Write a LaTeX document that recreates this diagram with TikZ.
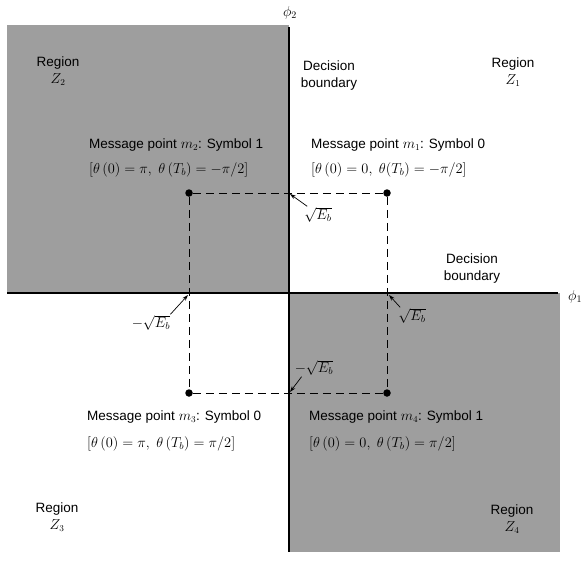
\documentclass[tikz,border=0pt]{standalone}
\usepackage{amsmath}
\usepackage{fontspec}
\setmainfont{Liberation Sans}
\usetikzlibrary{arrows.meta}

\begin{document}
\begin{tikzpicture}
    [x=1pt, y=-1pt,
    region/.style={fill=black!38, draw=none},
    bndry/.style={line width=1.4pt},
    guide/.style={line width=0.8pt, dash pattern=on 8pt off 5pt},
    msgpt/.style={inner sep=0pt, minimum size=7.5pt, circle, fill=black},
    txt/.style={font=\fontsize{13.5}{17}\selectfont, inner sep=1pt},
    eqn/.style={font=\fontsize{14.5}{17}\selectfont, inner sep=1pt},
    ptr/.style={-{Stealth[length=6pt, width=4pt]}, line width=0.7pt}]
        \useasboundingbox (0,0) rectangle (585,562);
        % Shaded regions Z2 and Z4
        \fill[region] (7,25) rectangle (289,293);
        \fill[region] (289,293) rectangle (560,552);

        % Decision boundaries (axes)
        \coordinate (top) at (289,27);
        \coordinate (bot) at (289,552);
        \coordinate (lft) at (7,293);
        \coordinate (rgt) at (558,293);
        \draw[bndry] (top) -- (bot);
        \draw[bndry] (lft) -- (rgt);
        \node[eqn] (phi2) at (290,13) {$\phi_2$};
        \node[eqn, anchor=west] (phi1) at (567,297) {$\phi_1$};

        % Message points
        \node[msgpt] (m1) at (387,193) {};
        \node[msgpt] (m2) at (189,193) {};
        \node[msgpt] (m3) at (189,393) {};
        \node[msgpt] (m4) at (387,393) {};

        \draw[guide] (m2) -- (m1);
        \draw[guide] (m1) -- (m4);
        \draw[guide] (m2) -- (m3);
        \draw[guide] (m3) -- (m4);

        % Projections on the axes
        \coordinate (p2) at (290,194);
        \coordinate (n1) at (188,295);
        \coordinate (p1) at (389,295);
        \coordinate (n2) at (290,392);
        \node[eqn] (e1) at (318,215) {$\sqrt{E_b}$};
        \node[eqn] (e2) at (151,323) {$-\sqrt{E_b}$};
        \node[eqn] (e3) at (412,316) {$\sqrt{E_b}$};
        \node[eqn] (e4) at (314,368) {$-\sqrt{E_b}$};
        \draw[ptr] ([xshift=4pt]e1.north west) -- (p2);
        \draw[ptr] ([xshift=-1pt]e2.north east) -- (n1);
        \draw[ptr] ([xshift=3pt]e3.north west) -- (p1);
        \draw[ptr] ([xshift=8pt]e4.south west) -- (n2);

        % Labels of the message points
        \node[txt, anchor=west] (msg2) at (88,145) {Message point $m_2$: Symbol 1};
        \node[eqn, anchor=west] (ang2) at (88,170) {$[\theta\,(0) = \pi,\ \theta\,(T_b) = -\pi/2]$};
        \node[txt, anchor=west] (msg1) at (310,145) {Message point $m_1$: Symbol 0};
        \node[eqn, anchor=west] (ang1) at (310,170) {$[\theta\,(0) = 0,\ \theta(T_b) = -\pi/2]$};
        \node[txt, anchor=west] (msg3) at (86,417) {Message point $m_3$: Symbol 0};
        \node[eqn, anchor=west] (ang3) at (86,444) {$[\theta\,(0) = \pi,\ \theta\,(T_b) = \pi/2]$};
        \node[txt, anchor=west] (msg4) at (308,417) {Message point $m_4$: Symbol 1};
        \node[eqn, anchor=west] (ang4) at (308,444) {$[\theta\,(0) = 0,\ \theta\,(T_b) = \pi/2]$};

        % Regions and boundaries
        \node[txt, align=center] (z2) at (58,71) {Region\\$Z_2$};
        \node[txt, align=center] (z1) at (513,72) {Region\\$Z_1$};
        \node[txt, align=center] (z3) at (57,517) {Region\\$Z_3$};
        \node[txt, align=center] (z4) at (512,519) {Region\\$Z_4$};
        \node[txt, align=center] (db1) at (329,76) {Decision\\boundary};
        \node[txt, align=center] (db2) at (472,269) {Decision\\boundary};
    \end{tikzpicture}
\end{document}
